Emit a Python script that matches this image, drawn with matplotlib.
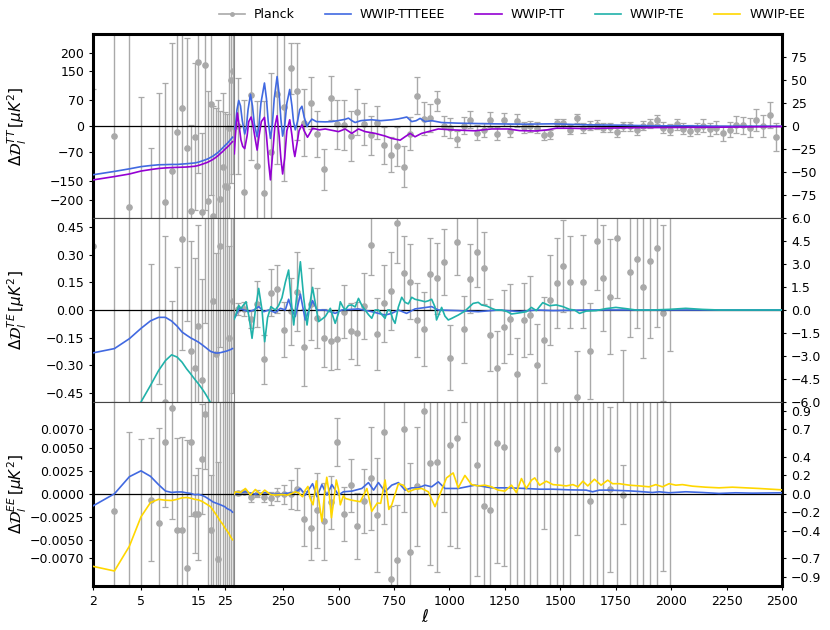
import numpy as np
import matplotlib
matplotlib.use('Agg')
import matplotlib.pyplot as plt
from matplotlib.lines import Line2D
from matplotlib.ticker import FixedLocator, FuncFormatter, NullLocator

# ---------------- multipoles ----------------
ell_lo = np.arange(2, 30)                 # unbinned low-l, 2..29
ell_bin = np.arange(44.5, 2500, 30.0)     # Planck binned centres, dl = 30
ell_bin_pol = ell_bin[:66]                # TE / EE bins stop near l = 2000

# ---------------- TT panel ----------------
# low-l values use the left scale, binned / high-l values the right scale
tt_planck_lo = [-600, -26, -220, -300, -320, -280, -206, -121, -15, 50, -60, -231, -29, 175,
                -234, 167, -203, 60, -244, -300, -280, -198, -110, -162, -166, -4, 126, 150]
tt_planck_lo_err = [700, 1000, 700, 380, 260, 370, 323, 348, 400, 320, 300, 235, 200, 302,
                    216, 394, 300, 247, 300, 350, 350, 240, 200, 200, 200, 280, 280, 280]
tt_planck_hi = [0, -72, 34, -43, -73, -28, 35, 21, 63, 38,
                4, 25, -9, -47, 31, 2, 1, -11, 15, 2,
                -10, 4, -21, -31, -22, -44, -8, 33, 8, 9,
                27, 0, -2, -14, 0.5, 7, -7, -4, 7, -8,
                7, -5, 6, -1, 0, -1.5, -9.6, -8.6, 3, 3.3,
                -4, 8.8, -2, 0.4, 1.5, -1.5, -1, -6.6, 0, 0,
                -4.4, 0.4, 2.6, 7, -1.5, -4, 2.2, -3, -4.8, -2.6,
                0.4, -3.3, -1.5, -7.8, -3.7, 1.8, 1, -1.5, 7, 0.7,
                11.8, -11.5]
tt_planck_hi_err = [52, 100, 71, 70, 100, 86, 76, 81, 28, 53,
                    36, 28, 25, 22, 24, 27, 27, 27, 25, 23,
                    21, 18, 20, 19, 21, 22, 18, 20, 18, 15,
                    11, 11, 11, 9, 9, 9, 8, 8, 8, 7,
                    7, 7, 7, 6, 6, 6, 5, 5, 5, 5,
                    5, 5, 5, 5, 5, 5, 5, 5, 5, 5,
                    5, 5, 5, 5, 6, 6, 6, 6, 6, 6,
                    7, 7, 7, 8, 8, 9, 9, 10, 12, 12,
                    14, 15]

tt_ttteee_lo = [-132, -123, -116, -110, -107, -105, -104.5, -104, -104, -103, -102, -101, -100, -98,
                -95, -92, -89, -85, -81, -76, -71, -65, -59, -53, -48, -42, -36, -30]
tt_tt_lo = [-146, -137, -130, -122, -118, -115, -113.5, -112.5, -112, -111.5, -111, -110, -109, -107,
            -104, -101, -98, -94, -90, -85, -80, -74, -69, -63, -58, -53, -47, -42]

tt_ttteee_hi_ell = [30, 35, 42, 50, 58, 66, 77, 84, 92, 103, 112, 120, 133, 141, 150, 166, 175, 183,
                    193, 201, 210, 223, 232, 240, 248, 257, 267, 280, 290, 297, 305, 315, 325, 335,
                    345, 358, 368, 380, 400, 440, 470, 500, 530, 545, 560, 575, 600, 620, 650, 690,
                    740, 770, 790, 808, 830, 850, 868, 890, 920, 965, 1040, 1190, 1340, 1467, 1617,
                    1766, 1916, 2066, 2216, 2366, 2500]
tt_ttteee_hi = [-3, 0, 18, 28, 22, 6, -8.5, -2, 18, 34.7, 22, 3, -11.5, 0, 25, 47, 30, 5,
                -13.3, 0, 30, 54, 35, 8, -10.8, 0, 25, 40, 22, 5, -4, 5, 18, 21.7,
                10, -0.4, 4, 7.7, 5, 4.7, 5, 6.2, 7.5, 8.8, 6, 4, 6, 6.5, 7, 6,
                7, 8, 9, 10, 5, 6, 8.5, 5, 6, 4, 3.3, 2.6, 2.2, 2.6, 1.5,
                1.1, 0.4, 0.4, 0, 0, 0]
tt_tt_hi_ell = [30, 35, 44, 52, 60, 68, 77, 88, 95, 106, 115, 125, 133, 142, 152, 166, 175, 185,
                193, 203, 213, 223, 232, 240, 248, 257, 267, 280, 290, 297, 303, 312, 322, 335,
                345, 360, 370, 383, 413, 440, 500, 530, 560, 590, 620, 665, 710, 740, 778, 800,
                823, 845, 875, 905, 950, 1010, 1115, 1190, 1265, 1317, 1390, 1440, 1482, 1540,
                1617, 1766, 1916, 2066, 2216, 2366, 2500]
tt_tt_hi = [-30, -10, 14.4, 0, -15, -22, -24.4, -10, 5, 10, 0, -15, -26, -10, 5, 9.6, -10, -40,
            -58.4, -30, 0, 11.4, -10, -35, -52, -35, -5, 7, -10, -25, -33, -20, -5, 1.5,
            -5, -12, -8, -2.2, -4, -3, -5.9, -3, -7.8, -3, -5.9, -7.8, -10.7, -13.3, -15.2, -11.5,
            -7.8, -11.5, -7.8, -5.9, -3, -4, -5, -3, -3, -4.8, -5.2, -4, -2.2, -2.2,
            -2.6, -1.8, -1.5, -1.3, -1.1, -0.7, -0.4]

# ---------------- TE panel ----------------
te_planck_lo = [0.35, 0.9, -0.8, 0.7, -0.9, 0.8, -0.50, -0.55, -0.8, 0.385, 0.54, -0.225, -0.317, -0.088,
                -0.38, 0.53, -0.7, 0.6, 0.05, -0.24, 0.65, 0.35, -0.6, 0.7, -0.6, -0.15, -0.7, 0.05]
te_planck_lo_err = [1.5, 1.4, 1.3, 1.2, 1.15, 1.2, 0.9, 0.6, 1.035, 0.6, 0.6, 0.6, 0.6, 0.55,
                    0.55, 0.6, 1.2, 1.2, 0.55, 0.55, 1.2, 0.55, 1.2, 1.2, 1.2, 0.5, 1.2, 0.5]
te_planck_hi = [0.07, 0.07, -0.61, 0.39, -3.22, 1.13, 1.37, -1.30, -0.09, 1.20,
                -2.43, 0.37, -0.54, -1.83, -2.00, -1.91, -0.11, -1.37, -1.52, 0.26,
                4.24, -1.59, 0.43, 1.24, 5.65, 2.39, 1.85, -0.65, -1.22, 2.33,
                2.07, 3.13, -3.11, 4.46, -1.26, 2.04, 3.76, 2.72, -1.63, -3.76,
                -1.09, -0.61, -4.15, -0.65, -0.33, -3.6, -1.96, 0.65, 1.74, 2.87,
                1.85, -5.7, 1.85, -2.7, 4.5, 2.1, 0.87, 4.67, -6.8, 2.46,
                3.3, 1.52, 3.2, 4.07, -0.2, 9.0]
te_planck_hi_err = [0.37, 0.43, 0.54, 1.5, 1.59, 1.52, 1.59, 1.8, 2.17, 2.6,
                    2.5, 2.35, 1.96, 1.91, 1.91, 1.91, 1.74, 1.83, 2.04, 2.17,
                    1.96, 2.35, 2.5, 2.54, 2.57, 2.41, 2.43, 2.39, 2.41, 2.35,
                    2.3, 2.17, 2.13, 2.2, 2.17, 2.26, 2.28, 2.35, 2.35, 2.39,
                    2.39, 2.28, 2.35, 2.39, 2.57, 2.7, 2.83, 2.93, 2.93, 2.98,
                    3.0, 3.04, 3.04, 3.13, 3.2, 3.48, 3.74, 3.87, 4.2, 4.24,
                    4.46, 4.67, 5.0, 5.2, 5.76, 11.7]

te_ttteee_lo = [-0.233, -0.21, -0.156, -0.10, -0.059, -0.04, -0.04, -0.06, -0.088, -0.12, -0.137, -0.152,
                -0.163, -0.174, -0.187, -0.20, -0.213, -0.225, -0.23, -0.234, -0.234, -0.232, -0.229,
                -0.226, -0.223, -0.219, -0.215, -0.21]
te_te_lo = [-1.2, -0.95, -0.7, -0.50, -0.41, -0.33, -0.275, -0.244, -0.256, -0.284, -0.32, -0.348,
            -0.376, -0.40, -0.425, -0.45, -0.477, -0.504, -0.53, -0.56, -0.59, -0.62, -0.65,
            -0.68, -0.71, -0.74, -0.77, -0.80]

te_ttteee_hi_ell = [30, 35, 53, 73, 95, 118, 140, 163, 185, 215, 238, 260, 275, 290, 305, 328, 350,
                    383, 403, 440, 485, 515, 590, 650, 710, 740, 770, 807, 845, 920, 950, 1040,
                    1130, 1220, 1317, 1392, 1467, 1617, 1766, 2000, 2500]
te_ttteee_hi = [-0.5, -0.43, 0.11, 0, -0.11, 0, 0.22, -0.11, 0, -0.17, 0.11, 0, 0.7, 0, -0.43, 1.04,
                -0.65, 0.61, 0, 0, -0.22, 0, 0.07, -0.11, -0.33, -0.22, 0, -0.22, 0.07, 0.22, 0,
                -0.04, -0.11, 0, -0.1, 0, -0.04, 0, 0, 0, 0]
te_te_hi_ell = [30, 35, 50, 60, 70, 83, 97, 110, 125, 140, 155, 167, 180, 195, 215, 230, 245, 260,
                275, 287, 298, 312, 328, 343, 358, 372, 383, 397, 410, 425, 440, 463, 485, 500,
                508, 520, 530, 545, 560, 575, 590, 605, 620, 635, 650, 665, 680, 695, 710, 722,
                732, 745, 755, 770, 785, 800, 815, 830, 845, 860, 875, 890, 905, 920, 935, 942,
                955, 965, 980, 995, 1010, 1040, 1070, 1107, 1130, 1145, 1170, 1190, 1210, 1235,
                1260, 1280, 1310, 1347, 1370, 1392, 1421, 1452, 1482, 1512, 1542, 1564, 1587,
                1617, 1661, 1706, 1751, 1796, 1841, 1916, 1991, 2066, 2141, 2216, 2366, 2500]
te_te_hi = [-0.6, -0.39, 0.3, 0.1, 0.3, 0.54, -0.5, -1.85, 0.0, 1.41, 0.0, -2.07, -0.5, 0.22, 0.0,
            0.3, 0.8, 1.8, 2.61, 0.5, -0.98, 1.0, 3.15, 0.8, -0.98, 0.5, 1.48, 0.3, -0.76, -0.6,
            -0.43, 0.11, -0.87, -0.2, 0.54, 0.2, 0.0, 0.3, 0.33, 0.2, 0.76, 0.3, 0.0, -0.3, -0.54,
            0.0, 0.0, -0.3, -0.54, 0.0, 0.0, -0.6, -0.87, 0.2, 0.83, 0.5, 0.4, 0.83, 0.7, 0.65,
            0.6, 0.54, 0.6, 0.7, 0.2, -0.65, -0.2, 0.17, -0.4, -0.65, -0.55, -0.33, -0.07, 0.43,
            0.5, 0.33, 0.25, 0.11, 0.0, 0.0, -0.1, -0.26, -0.2, -0.11, 0.17, -0.04, 0.48, 0.28,
            0.33, 0.22, 0.04, 0.0, -0.22, -0.07, -0.04, 0.09, 0.17, 0.09, 0.0, 0.0, 0.04, 0.11,
            0.04, 0.0, 0.0, 0.0]

# ---------------- EE panel ----------------
ee_planck_lo = [0.015, -0.00186, -0.012, -0.016, -0.00066, -0.0032, 0.0056, 0.0093, -0.0039, -0.0039,
                -0.0081, 0.0056, -0.0022, -0.0022, 0.0038, 0.0087, 0.013, -0.0039, -0.012, 0.012,
                -0.0071, 0.013, -0.012, 0.014, -0.013, 0.012, -0.012, 0.011]
ee_planck_lo_err = [0.03, 0.02, 0.0187, 0.022, 0.0067, 0.0104, 0.007, 0.012, 0.01, 0.0101,
                    0.014, 0.008, 0.0042, 0.005, 0.006, 0.006, 0.03, 0.006, 0.03, 0.03,
                    0.0106, 0.03, 0.03, 0.03, 0.03, 0.03, 0.03, 0.03]
ee_planck_hi = [0.01, 0.025, -0.04, 0.0, -0.04, -0.05, -0.007, -0.007, -0.007, 0.05,
                -0.27, -0.37, -0.18, -0.30, -0.094, 0.56, -0.22, 0.094, -0.35, -0.08,
                0.17, -0.23, 0.67, -0.93, -0.72, 0.70, -0.63, 0.08, 0.90, 0.33,
                0.35, 1.3, 0.53, 0.61, 1.8, 1.3, 0.31, -0.13, -0.18, 0.55,
                0.51, -1.4, 1.5, -1.3, 1.6, -1.5, 1.4, -1.6, 0.49, 1.7,
                -1.4, 1.05, -1.8, -0.08, 1.9, -1.6, 0.047, 1.8, -0.01, -2.0,
                2.1, -2.2, 2.3, -2.0, 2.5, 2.6]
ee_planck_hi_err = [0.018, 0.02, 0.054, 0.04, 0.054, 0.072, 0.072, 0.1, 0.16, 0.23,
                    0.3, 0.35, 0.41, 0.42, 0.29, 0.26, 0.29, 0.29, 0.36, 0.35,
                    0.56, 0.62, 1.0, 0.8, 0.6, 0.9, 0.97, 0.65, 0.9, 1.1,
                    1.2, 1.5, 1.1, 1.2, 1.02, 2.8, 1.2, 1.3, 1.2, 1.3,
                    1.3, 2.6, 2.7, 2.6, 2.8, 2.7, 1.78, 2.9, 1.6, 2.9,
                    2.8, 1.5, 3.0, 1.4, 3.1, 2.9, 0.9, 3.0, 0.32, 3.2,
                    3.3, 3.4, 3.5, 3.3, 3.34, 3.6]

ee_ttteee_lo = [-0.0013, 0.0, 0.00186, 0.0025, 0.0019, 0.001, 0.0003, 0.00015, 0.0002, 0.0002,
                0.0001, 0.00004, -0.0001, -0.00007, -0.00015, -0.0003, -0.0005, -0.0007, -0.0009,
                -0.001, -0.0011, -0.0012, -0.0013, -0.0014, -0.0016, -0.0017, -0.0018, -0.002]
ee_ee_lo = [-0.0079, -0.0084, -0.0057, -0.0025, -0.00095, -0.0006, -0.0007, -0.00073, -0.0006,
            -0.00044, -0.0004, -0.00048, -0.0006, -0.00066, -0.0008, -0.001, -0.0012, -0.0014,
            -0.0018, -0.0022, -0.0026, -0.003, -0.0033, -0.0037, -0.004, -0.0043, -0.0047, -0.005]

ee_ttteee_hi_ell = [30, 35, 80, 125, 170, 215, 260, 305, 328, 350, 383, 403, 425, 448, 470, 500,
                    522, 560, 605, 635, 658, 680, 710, 740, 770, 800, 830, 860, 890, 920, 950,
                    980, 1040, 1115, 1190, 1265, 1340, 1407, 1467, 1542, 1617, 1646, 1676, 1721,
                    1766, 1811, 1856, 1916, 1946, 1991, 2066, 2141, 2216, 2291, 2366, 2500]
ee_ttteee_hi = [0.0, 0.004, 0.022, -0.004, 0.014, -0.007, 0.004, 0.014, 0.058, -0.014, 0.11, -0.032,
                0.1, -0.014, 0.1, -0.014, 0.022, 0.029, 0.058, 0.122, 0.04, 0.122, 0.022, 0.094,
                0.122, 0.04, 0.065, 0.065, 0.094, 0.076, 0.13, 0.058, 0.058, 0.094, 0.065, 0.065,
                0.058, 0.05, 0.05, 0.043, 0.04, 0.022, 0.04, 0.04, 0.036, 0.032, 0.025, 0.014,
                0.022, 0.011, 0.022, 0.014, 0.004, 0.011, 0.007, 0.011]
ee_ee_hi_ell = [30, 35, 58, 80, 103, 125, 148, 167, 193, 215, 245, 268, 290, 305, 320, 338, 350,
                362, 372, 385, 392, 400, 410, 425, 437, 447, 458, 468, 480, 490, 500, 508, 522,
                530, 560, 598, 628, 650, 675, 690, 710, 727, 740, 770, 792, 815, 845, 875, 905,
                935, 965, 987, 1017, 1040, 1070, 1100, 1130, 1160, 1190, 1220, 1250, 1280, 1302,
                1325, 1347, 1370, 1385, 1407, 1437, 1467, 1497, 1527, 1557, 1580, 1602, 1624,
                1654, 1684, 1714, 1736, 1766, 1811, 1856, 1901, 1931, 1961, 1991, 2021, 2051,
                2096, 2156, 2216, 2276, 2336, 2396, 2500]
ee_ee_hi = [0.0, 0.022, 0.014, 0.058, -0.014, 0.047, -0.007, 0.04, -0.007, -0.014, -0.007, -0.014,
            0.004, 0.022, 0.01, -0.032, 0.04, 0.08, -0.05, -0.12, 0.0, 0.14, -0.05, -0.3, 0.0,
            0.18, 0.0, -0.26, -0.05, 0.15, 0.05, -0.12, -0.02, -0.05, -0.07, -0.086, 0.058,
            -0.19, -0.1, -0.104, 0.15, -0.17, -0.12, 0.11, 0.094, 0.022, 0.05, 0.058, 0.022,
            -0.14, 0.04, 0.173, 0.227, 0.065, 0.2, 0.1, 0.086, 0.094, 0.076, 0.04, 0.029, 0.094,
            0.014, 0.166, 0.058, 0.148, 0.173, 0.094, 0.137, 0.10, 0.094, 0.086, 0.10, 0.076,
            0.137, 0.086, 0.158, 0.094, 0.148, 0.11, 0.11, 0.094, 0.086, 0.076, 0.10, 0.076,
            0.11, 0.094, 0.10, 0.083, 0.072, 0.065, 0.072, 0.065, 0.058, 0.043]

# ---------------- styling ----------------
c_planck = '#a9a9a9'
c_ttteee = '#4169e1'
c_tt = '#9400d3'
c_te = '#20b2aa'
c_ee = '#ffd700'
lw = 1.2


def minus_fmt(dec):
    return FuncFormatter(lambda v, p: f'{v:.{dec}f}'.replace('-', '\u2212'))


def planck(ax, x, y, e):
    ax.errorbar(x, y, yerr=e, fmt='o', color=c_planck, ms=3.8, elinewidth=1.0,
                capsize=2, capthick=0.9, zorder=1)


W, H = 830, 630
fig = plt.figure(figsize=(W / 100, H / 100), dpi=100)
xl, xm, xr = 93.3 / W, 234.3 / W, 782 / W
yt, yb = 1 - 34.3 / H, 1 - 585.7 / H
ph = (yt - yb) / 3

rows = [
    dict(lo_planck=(tt_planck_lo, tt_planck_lo_err), hi_planck=(ell_bin, tt_planck_hi, tt_planck_hi_err),
         lo_lines=[(tt_ttteee_lo, c_ttteee), (tt_tt_lo, c_tt)],
         hi_lines=[(tt_ttteee_hi_ell, tt_ttteee_hi, c_ttteee), (tt_tt_hi_ell, tt_tt_hi, c_tt)],
         ylim_l=250, yt_l=[-200, -150, -70, 0, 70, 150, 200], dec_l=0,
         ylim_r=100, yt_r=[-75, -50, -25, 0, 25, 50, 75], dec_r=0,
         label=r'$\Delta\mathcal{D}_l^{TT}\,[\mu K^2]$'),
    dict(lo_planck=(te_planck_lo, te_planck_lo_err), hi_planck=(ell_bin_pol, te_planck_hi, te_planck_hi_err),
         lo_lines=[(te_ttteee_lo, c_ttteee), (te_te_lo, c_te)],
         hi_lines=[(te_ttteee_hi_ell, te_ttteee_hi, c_ttteee), (te_te_hi_ell, te_te_hi, c_te)],
         ylim_l=0.5, yt_l=[-0.45, -0.30, -0.15, 0, 0.15, 0.30, 0.45], dec_l=2,
         ylim_r=6, yt_r=[-6, -4.5, -3, -1.5, 0, 1.5, 3, 4.5, 6], dec_r=1,
         label=r'$\Delta\mathcal{D}_l^{TE}\,[\mu K^2]$'),
    dict(lo_planck=(ee_planck_lo, ee_planck_lo_err), hi_planck=(ell_bin_pol, ee_planck_hi, ee_planck_hi_err),
         lo_lines=[(ee_ttteee_lo, c_ttteee), (ee_ee_lo, c_ee)],
         hi_lines=[(ee_ttteee_hi_ell, ee_ttteee_hi, c_ttteee), (ee_ee_hi_ell, ee_ee_hi, c_ee)],
         ylim_l=0.01, yt_l=[-0.007, -0.005, -0.0025, 0, 0.0025, 0.005, 0.007], dec_l=4,
         ylim_r=1.0, yt_r=[-0.9, -0.7, -0.4, -0.2, 0, 0.2, 0.4, 0.7, 0.9], dec_r=1,
         label=r'$\Delta\mathcal{D}_l^{EE}\,[\mu K^2]$'),
]

for r, p in enumerate(rows):
    b = yt - (r + 1) * ph
    axl = fig.add_axes([xl, b, xm - xl, ph])
    axr = fig.add_axes([xm, b, xr - xm, ph])

    # low-l part (log scale)
    axl.axhline(0, color='k', lw=0.9, zorder=2)
    planck(axl, ell_lo, *p['lo_planck'])
    for vals, c in p['lo_lines']:
        axl.plot(ell_lo, vals, color=c, lw=lw, zorder=3)
    axl.set_xscale('log')
    axl.set_xlim(2, 30)
    axl.set_ylim(-p['ylim_l'], p['ylim_l'])
    axl.yaxis.set_major_locator(FixedLocator(p['yt_l']))
    axl.yaxis.set_major_formatter(minus_fmt(p['dec_l']))
    axl.xaxis.set_major_locator(FixedLocator([2, 5, 15, 25]))
    axl.xaxis.set_major_formatter(FuncFormatter(lambda v, q: f'{v:g}'))
    axl.xaxis.set_minor_locator(NullLocator())

    # high-l part (linear scale)
    axr.axhline(0, color='k', lw=0.9, zorder=2)
    planck(axr, *p['hi_planck'])
    for ell, vals, c in p['hi_lines']:
        axr.plot(ell, vals, color=c, lw=lw, zorder=3)
    axr.set_xlim(30, 2500)
    axr.set_ylim(-p['ylim_r'], p['ylim_r'])
    axr.yaxis.tick_right()
    axr.yaxis.set_major_locator(FixedLocator(p['yt_r']))
    axr.yaxis.set_major_formatter(minus_fmt(p['dec_r']))
    axr.xaxis.set_major_locator(FixedLocator(list(range(250, 2501, 250))))

    for ax in (axl, axr):
        ax.tick_params(labelsize=9, length=3, width=0.8)
        for s in ax.spines.values():
            s.set_linewidth(0.8)
            s.set_color('#444444')
        if r < 2:
            ax.tick_params(axis='x', which='both', bottom=False, labelbottom=False)
        else:
            ax.spines['bottom'].set_linewidth(2.2)
            ax.spines['bottom'].set_color('k')
        if r == 0:
            ax.spines['top'].set_linewidth(2.2)
            ax.spines['top'].set_color('k')
    axl.spines['right'].set_visible(False)
    axr.spines['left'].set_color('#888888')
    axl.spines['left'].set_linewidth(2.2)
    axl.spines['left'].set_color('k')
    axr.spines['right'].set_linewidth(2.2)
    axr.spines['right'].set_color('k')

    fig.text(17 / W, b + ph / 2, p['label'], rotation=90, ha='center', va='center', fontsize=11)

fig.text(425 / W, 1 - 617 / H, r'$\ell$', ha='center', va='center', fontsize=12)

handles = [Line2D([], [], color=c_planck, marker='o', ms=2.5, lw=1.2),
           Line2D([], [], color=c_ttteee, lw=lw),
           Line2D([], [], color=c_tt, lw=lw),
           Line2D([], [], color=c_te, lw=lw),
           Line2D([], [], color=c_ee, lw=lw)]
labels = ['Planck', 'WWIP-TTTEEE', 'WWIP-TT', 'WWIP-TE', 'WWIP-EE']
fig.legend(handles, labels, loc='center right', bbox_to_anchor=(805 / W, 1 - 15 / H), ncol=5,
           frameon=False, fontsize=9, handlelength=2.1, handletextpad=0.7, columnspacing=2.4,
           borderaxespad=0, borderpad=0)

fig.savefig('out.png', dpi=100)
